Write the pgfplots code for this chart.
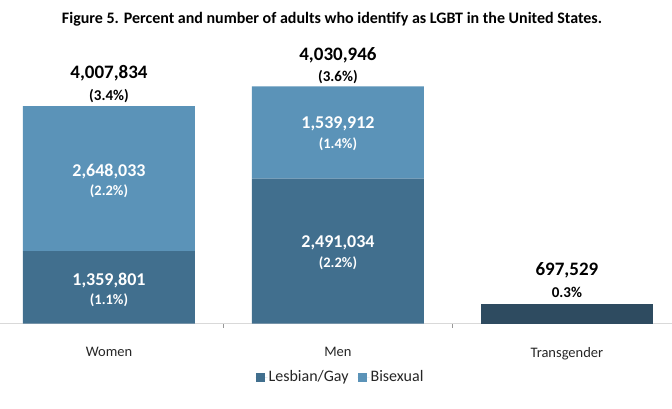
\documentclass[border=0pt]{standalone}
\usepackage{fontspec}
\setmainfont{Carlito}
\usepackage{pgfplots}
\pgfplotsset{compat=1.18}

\definecolor{lgcol}{RGB}{65,111,142}
\definecolor{bicol}{RGB}{91,147,184}
\definecolor{trcol}{RGB}{46,75,96}
\definecolor{axcol}{RGB}{217,217,217}

\tikzset{tot/.style={font=\fontsize{19}{21}\selectfont\bfseries, text=black},
         totp/.style={font=\fontsize{15}{17}\selectfont\bfseries, text=black},
         inn/.style={font=\fontsize{18}{20}\selectfont\bfseries, text=white},
         innp/.style={font=\fontsize{14.5}{16}\selectfont\bfseries, text=white}}

\begin{document}
\begin{tikzpicture}
\begin{axis}[
  scale only axis,
  width=672pt, height=283.7pt,
  xmin=-0.476, xmax=2.459,
  ymin=0, ymax=4.305,
  ybar stacked, bar width=172pt,
  hide y axis,
  axis x line*=bottom,
  x axis line style={draw=axcol, line width=0.8pt, -},
  xtick={0,1,2},
  xticklabels={Women,Men,Transgender},
  major tick length=0pt,
  extra x ticks={0.5,1.5},
  extra x tick labels={},
  extra x tick style={major tick length=4pt, tick style={draw=axcol!70!black, line width=0.6pt}, tick align=outside},
  xticklabel style={font=\fontsize{14.5}{16}\selectfont, text=black!85, yshift=-20pt},
  clip=false,
  legend columns=2,
  legend style={draw=none, at={(0.506,-0.188)}, anchor=center,
    font=\fontsize{16}{18}\selectfont, text=black!85,
    /tikz/every odd column/.append style={column sep=0pt},
    /tikz/every even column/.append style={column sep=8pt},
    nodes={inner xsep=1pt}},
  legend image code/.code={
    \fill[#1] (0pt,-4.5pt) rectangle (9pt,4.5pt);
    \path (0pt,0pt) -- (12pt,0pt);},
  after end axis/.code={
    % value labels: count and share of adults
    \node[tot]  at (axis cs:0,3.804) {4,007,834};
    \node[totp] at (axis cs:0,3.455) {(3.4\%)};
    \node[tot]  at (axis cs:1,4.077) {4,030,946};
    \node[totp] at (axis cs:1,3.744) {(3.6\%)};
    \node[inn]  at (axis cs:0,2.317) {2,648,033};
    \node[innp] at (axis cs:0,2.014) {(2.2\%)};
    \node[inn]  at (axis cs:0,0.663) {1,359,801};
    \node[innp] at (axis cs:0,0.360) {(1.1\%)};
    \node[inn]  at (axis cs:1,3.030) {1,539,912};
    \node[innp] at (axis cs:1,2.727) {(1.4\%)};
    \node[inn]  at (axis cs:1,1.225) {2,491,034};
    \node[innp] at (axis cs:1,0.921) {(2.2\%)};
    \node[tot]  at (axis cs:2,0.815) {697,529};
    \node[totp] at (axis cs:2,0.481) {0.3\%};
    \node[font=\fontsize{16}{18}\selectfont\bfseries] at (axis cs:0.974,4.625)
      {Figure 5. Percent and number of adults who identify as LGBT in the United States.};
  },
]
% percent of adults, stacked per group
\addplot[fill=lgcol, draw=none] coordinates {(0,1.1) (1,2.2) (2,0)};
\addlegendentry{Lesbian/Gay}
\addplot[fill=bicol, draw=none] coordinates {(0,2.2) (1,1.4) (2,0)};
\addlegendentry{Bisexual}
\addplot[fill=trcol, draw=none, forget plot] coordinates {(0,0) (1,0) (2,0.3)};
\end{axis}
\pgfresetboundingbox
\path[use as bounding box] (0pt,-84.3pt) rectangle (672pt,323.7pt);
\end{tikzpicture}
\end{document}
